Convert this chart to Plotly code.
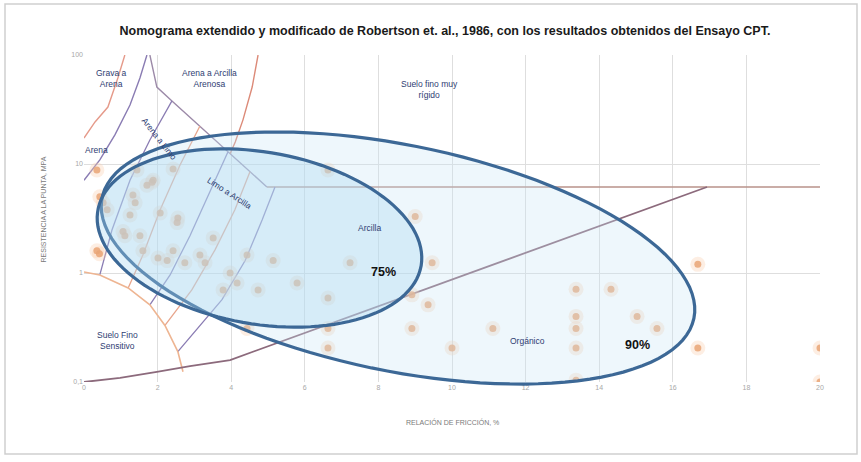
import math
import numpy as np
import plotly.graph_objects as go

# --- CPT results: friction ratio Rf (%) and cone tip resistance qc (MPa) ---
rf_points = [0.35, 1.44, 2.42, 1.71, 1.88, 1.33, 0.52, 0.63, 0.43, 1.25, 2.07, 2.53,
             1.06, 1.52, 2.55, 1.39, 1.85, 0.35, 0.42, 1.11, 1.60, 2.01, 2.42, 2.26,
             2.74, 3.15, 3.29, 3.97, 4.16, 3.78, 4.43, 4.73, 5.14, 5.79, 4.43, 3.51,
             6.63, 9.00, 7.23, 6.63, 6.63, 6.63, 9.46, 8.91, 9.35, 8.91, 11.11, 10.00,
             13.37, 14.32, 13.37, 13.37, 13.37, 13.37, 15.03, 15.57, 16.68, 16.68,
             20.00, 20.00]
qc_points = [8.8, 8.8, 9.0, 6.4, 7.1, 5.2, 4.4, 3.8, 5.0, 3.4, 3.55, 2.9,
             2.4, 2.2, 3.2, 4.4, 6.8, 1.6, 1.5, 2.2, 1.6, 1.37, 1.6, 1.3,
             1.24, 1.46, 1.24, 1.0, 0.81, 0.70, 1.46, 0.70, 1.3, 0.81, 0.31, 2.1,
             8.8, 3.3, 1.24, 0.59, 0.31, 0.205, 1.24, 0.63, 0.51, 0.31, 0.31, 0.205,
             0.71, 0.71, 0.40, 0.31, 0.205, 0.104, 0.40, 0.31, 1.2, 0.205,
             0.205, 0.1]

# --- Soil behaviour type boundaries (Rf %, qc MPa) ---
gravel_rf = [0.0, 0.30, 0.65, 0.92, 1.11]
gravel_qc = [17.3, 24.3, 33.3, 61.5, 100]

sand_rf = [0.0, 0.43, 0.84, 1.25, 1.52, 1.71]
sand_qc = [7.1, 10.9, 18.5, 34.8, 61.5, 100]

stiff_rf = [1.79, 1.98, 2.39, 3.15, 3.91, 4.51, 4.97, 20.0]
stiff_qc = [100, 50.8, 37.9, 22.3, 12.9, 8.5, 6.15, 6.15]

clayey_sand_rf = [4.73, 4.57, 4.32, 4.11, 3.97]
clayey_sand_qc = [100, 50.8, 25.4, 15.9, 12.4]

arc_a_rf = [2.39, 1.79, 1.25, 0.76, 0.43]
arc_a_qc = [37.9, 16.6, 7.1, 2.48, 0.96]
arc_b_rf = [3.15, 2.61, 2.07, 1.60, 1.20]
arc_b_qc = [22.3, 9.8, 3.8, 1.46, 0.73]
arc_c_rf = [3.91, 3.37, 2.88, 2.34, 1.79]
arc_c_qc = [12.9, 5.2, 2.2, 0.96, 0.51]
arc_d_rf = [4.51, 4.10, 3.56, 2.93, 2.20]
arc_d_qc = [8.5, 3.8, 1.63, 0.70, 0.33]
arc_e_rf = [5.19, 4.84, 4.38, 3.75, 2.55]
arc_e_qc = [6.15, 3.06, 1.30, 0.57, 0.19]

sensitive_rf = [0.0, 0.43, 1.20, 1.79, 2.20, 2.55, 2.69]
sensitive_qc = [1.02, 0.96, 0.73, 0.51, 0.33, 0.19, 0.124]

organic_rf = [0.0, 0.98, 1.98, 2.88, 3.97, 16.93]
organic_qc = [0.10, 0.109, 0.124, 0.140, 0.159, 6.15]

x_ticks = [0, 2, 4, 6, 8, 10, 12, 14, 16, 18, 20]
y_ticks = [0.1, 1, 10, 100]
y_ticktext = ["0,1", "1", "10", "100"]

PURPLE = "#8a7cb3"
ORANGE = "#e8a58c"
BROWN = "#8c6a7c"

fig = go.Figure()

boundaries = [
    (gravel_rf, gravel_qc, "#e59a8a", 1.4),
    (sand_rf, sand_qc, PURPLE, 1.4),
    (stiff_rf[:-1], stiff_qc[:-1], "#9c8aa8", 1.4),
    (stiff_rf[-2:], stiff_qc[-2:], "#b8928a", 1.6),
    (clayey_sand_rf, clayey_sand_qc, "#dc8a78", 1.4),
    (arc_a_rf, arc_a_qc, PURPLE, 1.3),
    (arc_b_rf, arc_b_qc, ORANGE, 1.3),
    (arc_c_rf, arc_c_qc, PURPLE, 1.3),
    (arc_d_rf, arc_d_qc, ORANGE, 1.3),
    (arc_e_rf, arc_e_qc, PURPLE, 1.3),
    (sensitive_rf, sensitive_qc, "#eeb592", 1.6),
    (organic_rf, organic_qc, BROWN, 1.8),
]
for bx, by, col, w in boundaries:
    fig.add_trace(go.Scatter(x=bx, y=by, mode="lines", line=dict(color=col, width=w),
                             hoverinfo="skip", showlegend=False))

# halo + dot for each CPT reading
fig.add_trace(go.Scatter(x=rf_points, y=qc_points, mode="markers",
                         marker=dict(size=15, color="rgba(248,205,175,0.35)"),
                         hoverinfo="skip", showlegend=False))
fig.add_trace(go.Scatter(x=rf_points, y=qc_points, mode="markers",
                         marker=dict(size=7, color="rgba(233,165,118,0.85)"),
                         showlegend=False))

# --- confidence ellipses, defined in plot-area pixels (origin top-left, y down) ---
PLOT_W, PLOT_H = 736, 327


def ellipse_path(cx, cy, a, b, theta_deg, n=120):
    th = math.radians(theta_deg)
    t = np.linspace(0, 2 * np.pi, n)
    px = cx + a * np.cos(th) * np.cos(t) - b * np.sin(th) * np.sin(t)
    py = cy + a * np.sin(th) * np.cos(t) + b * np.cos(th) * np.sin(t)
    u = px / PLOT_W
    v = 1 - py / PLOT_H
    pts = [f"{x:.4f},{y:.4f}" for x, y in zip(u, v)]
    return "M " + " L ".join(pts) + " Z"


ELLIPSE_LINE = "#3c6896"
fig.add_shape(type="path", xref="paper", yref="paper",
              path=ellipse_path(314, 203, 302, 113, 11.5),
              fillcolor="rgba(200,228,246,0.30)",
              line=dict(color=ELLIPSE_LINE, width=3.2), layer="above")
fig.add_shape(type="path", xref="paper", yref="paper",
              path=ellipse_path(175.5, 183, 164, 86, 9.7),
              fillcolor="rgba(170,214,240,0.35)",
              line=dict(color=ELLIPSE_LINE, width=3.2), layer="above")

# --- zone labels ---
LABEL_COLOR = "#2e3d72"
LABEL_FONT = "Liberation Sans"
zone_labels = [
    ("Grava a<br>Arena", 0.76, 61, 0),
    ("Arena a Arcilla<br>Arenosa", 3.42, 61.5, 0),
    ("Suelo fino muy<br>rígido", 9.40, 47.8, 0),
    ("Arena", 0.35, 13.4, 0),
    ("Arena a Limo", 2.05, 17.0, 52),
    ("Limo a Arcilla", 3.95, 5.4, 33),
    ("Arcilla", 7.77, 2.59, 0),
    ("Orgánico", 12.04, 0.24, 0),
    ("Suelo Fino<br>Sensitivo", 0.92, 0.24, 0),
]
for txt, xv, yv, ang in zone_labels:
    fig.add_annotation(x=xv, y=math.log10(yv), text=txt, showarrow=False,
                       textangle=ang,
                       font=dict(family=LABEL_FONT, size=8.5, color=LABEL_COLOR))

for txt, xv, yv in [("75%", 8.13, 1.02), ("90%", 15.03, 0.218)]:
    fig.add_annotation(x=xv, y=math.log10(yv), text=f"<b>{txt}</b>", showarrow=False,
                       font=dict(family="Liberation Sans", size=12.5, color="#111111"))

# axis titles
fig.add_annotation(xref="paper", yref="paper", x=(37 - 84) / PLOT_W, y=(382 - 210) / PLOT_H,
                   text="RESISTENCIA A LA PUNTA, MPA", textangle=-90, showarrow=False,
                   font=dict(family="Liberation Sans", size=7, color="#7a7a7a"))
fig.add_annotation(xref="paper", yref="paper", x=(452 - 84) / PLOT_W, y=(382 - 428) / PLOT_H,
                   text="RELACIÓN DE FRICCIÓN, %", showarrow=False,
                   font=dict(family="Liberation Sans", size=7, color="#7a7a7a"))

# outer frame
fig.add_shape(type="rect", xref="paper", yref="paper",
              x0=(5 - 84) / PLOT_W, x1=(857 - 84) / PLOT_W,
              y0=(382 - 454) / PLOT_H, y1=(382 - 4) / PLOT_H,
              line=dict(color="#cfcfcf", width=1.5), layer="below")

fig.update_layout(
    width=861, height=462,
    margin=dict(l=84, r=41, t=55, b=80),
    paper_bgcolor="white", plot_bgcolor="white",
    title=dict(text="<b>Nomograma extendido y modificado de Robertson et. al., 1986, con los resultados obtenidos del Ensayo CPT.</b>",
               x=(445) / 861, xanchor="center", y=1 - 31 / 462, yanchor="middle",
               font=dict(family="Liberation Sans", size=12.5, color="#1a1a1a")),
    xaxis=dict(range=[0, 20], tickvals=x_ticks, showgrid=True, gridcolor="#dedede",
               gridwidth=1, zeroline=False, showline=False, ticks="",
               tickfont=dict(family="Liberation Sans", size=7, color="#a8a8a8")),
    yaxis=dict(type="log", range=[-1, 2], tickvals=y_ticks, ticktext=y_ticktext,
               showgrid=True, gridcolor="#dedede", gridwidth=1, zeroline=False,
               showline=False, ticks="",
               tickfont=dict(family="Liberation Sans", size=7, color="#a8a8a8")),
)

fig.write_html("out.html")
